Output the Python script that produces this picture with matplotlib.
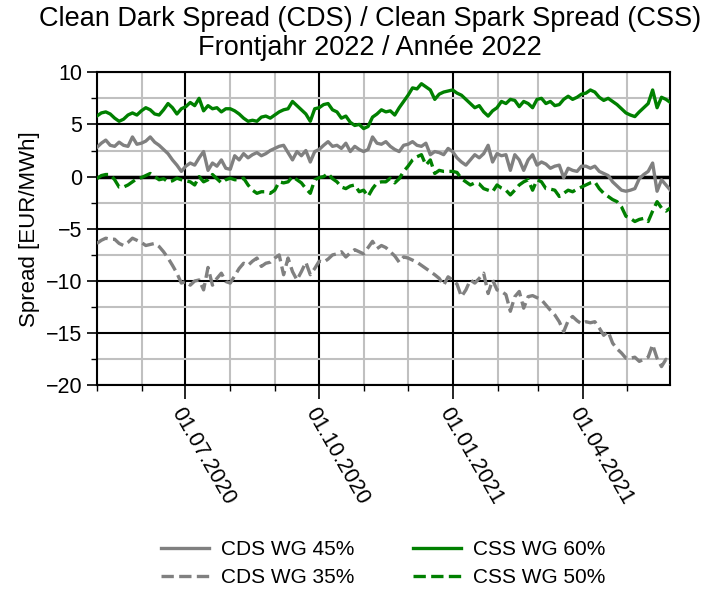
import matplotlib
matplotlib.use('Agg')
import matplotlib.pyplot as plt
import matplotlib.dates as mdates
from matplotlib.ticker import MultipleLocator
import pandas as pd

plt.rcParams['font.family'] = ['Liberation Sans', 'DejaVu Sans']

start, end = '2020-05-01', '2021-05-31'

# one row per month, May 2020 .. May 2021, ~every 3 days
cds_45 = [
    2.8, 3.2, 3.5, 3.0, 2.9, 3.3, 3.0, 2.9, 3.8, 3.1,
    3.2, 3.4, 3.8, 3.3, 3.0, 2.6, 2.2, 1.6, 1.1, 0.5,
    1.0, 1.3, 1.1, 1.8, 2.4, 0.6, 1.3, 1.0, 1.6, 0.8,
    0.7, 2.0, 1.6, 2.2, 1.8, 2.1, 2.3, 2.0, 2.2, 2.5,
    2.7, 2.9, 3.0, 2.3, 1.6, 2.4, 2.0, 2.5, 1.4, 2.4,
    2.6, 3.0, 3.35, 2.9, 3.0, 2.7, 3.2, 2.4, 2.9, 2.6,
    2.4, 2.6, 3.8, 3.2, 3.1, 3.35, 2.9, 2.6, 2.4, 3.0,
    3.1, 3.35, 3.0, 2.9, 3.2, 2.1, 2.4, 2.3, 2.1, 2.7,
    2.4, 1.8, 1.4, 1.1, 1.6, 2.1, 1.8, 2.2, 3.0, 1.4,
    2.2, 2.0, 2.1, 0.6, 2.1, 1.6, 0.6, 1.6, 2.1, 1.1,
    1.4, 1.2, 0.8, 1.0, 1.1, -0.1, 0.8, 0.6, 0.5, 1.0,
    1.0, 0.8, 1.0, 0.5, 0.3, 0.1, -0.5, -0.9, -1.3, -1.4,
    -1.3, -1.15, -0.2, 0.2, 0.5, 1.3, -1.4, -0.3, -0.8, -1.3,
]
cds_35 = [
    -6.4, -6.1, -5.9, -6.0, -6.0, -6.4, -6.6, -6.3, -5.9, -6.1,
    -6.3, -6.6, -6.5, -6.4, -6.7, -7.2, -7.8, -8.5, -9.25, -10.2,
    -10.05, -10.4, -10.0, -9.9, -10.85, -8.7, -10.4, -9.75, -9.25, -10.05,
    -10.2, -9.5, -8.8, -8.3, -8.5, -8.1, -7.8, -8.6, -8.3, -8.2,
    -7.8, -7.5, -9.4, -7.8, -9.1, -9.9, -9.1, -8.2, -9.4, -8.8,
    -8.1, -8.2, -7.9, -7.5, -7.4, -7.2, -7.7, -7.3, -7.0, -7.2,
    -7.4, -6.8, -6.2, -6.9, -6.6, -6.8, -7.2, -7.6, -8.2, -7.7,
    -7.8, -8.0, -8.2, -8.5, -8.8, -9.1, -9.4, -9.75, -10.4, -9.6,
    -9.9, -10.3, -11.5, -10.85, -9.9, -10.2, -9.75, -9.25, -11.2, -9.9,
    -10.85, -11.0, -11.3, -12.9, -11.5, -11.0, -12.6, -11.5, -11.4, -11.6,
    -11.8, -12.3, -12.8, -13.25, -13.9, -14.85, -13.8, -13.4, -13.8, -14.1,
    -13.9, -14.0, -13.9, -14.5, -15.2, -14.85, -15.95, -16.5, -16.9, -17.4,
    -17.4, -17.3, -17.7, -17.5, -17.3, -16.1, -17.4, -18.2, -17.5, -18.0,
]
css_60 = [
    5.8, 6.1, 6.2, 6.0, 5.6, 5.3, 5.5, 5.9, 6.1, 5.9,
    6.3, 6.6, 6.4, 6.0, 5.9, 6.4, 7.0, 6.6, 6.0, 6.5,
    6.7, 7.1, 6.8, 7.5, 6.3, 6.8, 6.5, 6.6, 6.2, 6.5,
    6.5, 6.3, 6.0, 5.6, 5.3, 5.4, 5.3, 5.7, 5.8, 5.6,
    5.9, 6.2, 6.4, 6.5, 7.2, 6.8, 6.4, 6.0, 5.3, 6.5,
    6.6, 6.9, 7.0, 6.4, 6.2, 5.6, 5.8, 5.2, 4.9, 5.0,
    4.6, 4.8, 5.7, 6.0, 6.4, 6.2, 6.3, 5.9, 6.6, 7.2,
    7.8, 8.5, 8.4, 8.9, 8.6, 8.3, 7.4, 7.9, 8.1, 8.2,
    8.3, 8.0, 7.8, 7.4, 7.0, 6.6, 6.8, 6.2, 5.8, 6.3,
    6.6, 7.2, 7.0, 7.4, 7.3, 6.7, 7.2, 7.0, 6.6, 7.4,
    7.5, 7.0, 7.2, 6.8, 6.9, 7.4, 7.7, 7.4, 7.6, 7.9,
    8.0, 8.3, 8.1, 7.6, 7.3, 7.5, 7.2, 6.9, 6.5, 6.1,
    5.9, 5.75, 6.2, 6.6, 7.0, 8.3, 6.6, 7.6, 7.4, 7.1,
]
css_50 = [
    -0.2, 0.1, 0.2, 0.2, -0.3, -1.0, -1.0, -0.8, -0.5, -0.2,
    -0.1, 0.1, 0.3, 0.0, -0.3, -0.2, -0.5, -0.4, -0.15, -0.3,
    -0.4, -0.5, -0.8, 0.0, -0.5, -0.3, 0.2, -0.2, -0.6, -0.3,
    -0.15, -0.3, -0.3, -0.15, -0.8, -1.3, -1.6, -1.45, -1.45, -1.6,
    -1.3, -0.5, -0.6, -0.5, 0.0, -0.3, -0.6, -1.15, -1.6, -0.3,
    -0.1, 0.0, 0.3, -0.2, -0.5, -1.0, -1.15, -0.9, -0.8, -1.45,
    -1.3, -1.9, -1.15, -0.6, -0.5, -0.5, -0.15, -0.6, -0.2, 0.5,
    1.0, 1.6, 1.9, 2.1, 1.1, 1.6, 0.3, 0.6, 0.5, 0.5,
    0.5, 0.4, -0.2, -0.5, -0.8, -0.6, -0.7, -1.15, -1.3, -1.45,
    -0.8, -1.1, -1.3, -1.75, -1.3, -0.8, -0.5, -0.3, -1.3, -0.3,
    -0.5, -1.15, -1.2, -1.3, -1.9, -1.6, -1.3, -1.45, -1.2, -1.0,
    -0.8, -0.6, -0.5, -1.15, -1.6, -1.9, -2.2, -2.4, -2.9, -3.8,
    -4.0, -4.3, -4.1, -4.0, -4.3, -3.3, -2.4, -3.0, -3.3, -3.0,
]

series = [
    ('CDS WG 45%', cds_45, 'gray', '-'),
    ('CDS WG 35%', cds_35, 'gray', '--'),
    ('CSS WG 60%', css_60, 'green', '-'),
    ('CSS WG 50%', css_50, 'green', '--'),
]

fig = plt.figure(figsize=(7.02, 5.92), dpi=100)
ax = fig.add_axes([0.138, 0.349, 0.817, 0.529])

for label, vals, color, ls in series:
    dates = pd.date_range(start, end, periods=len(vals))
    ax.plot(dates, vals, color=color, ls=ls, lw=2.4, label=label, zorder=3)

ax.axhline(0, color='black', lw=2.5, zorder=2)

ax.set_xlim(pd.Timestamp(start), pd.Timestamp(end))
ax.set_ylim(-20, 10)
ax.yaxis.set_major_locator(MultipleLocator(5))
ax.yaxis.set_minor_locator(MultipleLocator(2.5))
ax.xaxis.set_major_locator(mdates.MonthLocator(bymonth=[1, 4, 7, 10]))
ax.xaxis.set_minor_locator(mdates.MonthLocator())
ax.xaxis.set_major_formatter(mdates.DateFormatter('%d.%m.%Y'))

ax.grid(which='minor', color='#c0c0c0', lw=1.5)
ax.grid(which='major', color='black', lw=1.5)
ax.set_axisbelow(True)
for s in ax.spines.values():
    s.set_linewidth(1.5)

ax.tick_params(axis='both', which='major', labelsize=15.5, width=1.2, length=7)
ax.tick_params(axis='both', which='minor', width=1.0, length=4)
ax.tick_params(axis='x', which='major', length=10)
for lab in ax.get_xticklabels():
    lab.set_rotation(-60)
    lab.set_ha('left')
    lab.set_va('top')
    lab.set_rotation_mode('anchor')

ax.set_ylabel('Spread [EUR/MWh]', fontsize=16)
fig.text(0.527, 0.943, 'Clean Dark Spread (CDS) / Clean Spark Spread (CSS)\nFrontjahr 2022 / Année 2022',
         ha='center', va='center', fontsize=19.5, linespacing=1.15)

fig.legend(loc='center', bbox_to_anchor=(0.546, 0.048), ncol=2, frameon=False,
           fontsize=15, handlelength=2.3, handletextpad=0.6, columnspacing=2.8,
           labelspacing=0.45)

fig.savefig('out.png', dpi=100)
